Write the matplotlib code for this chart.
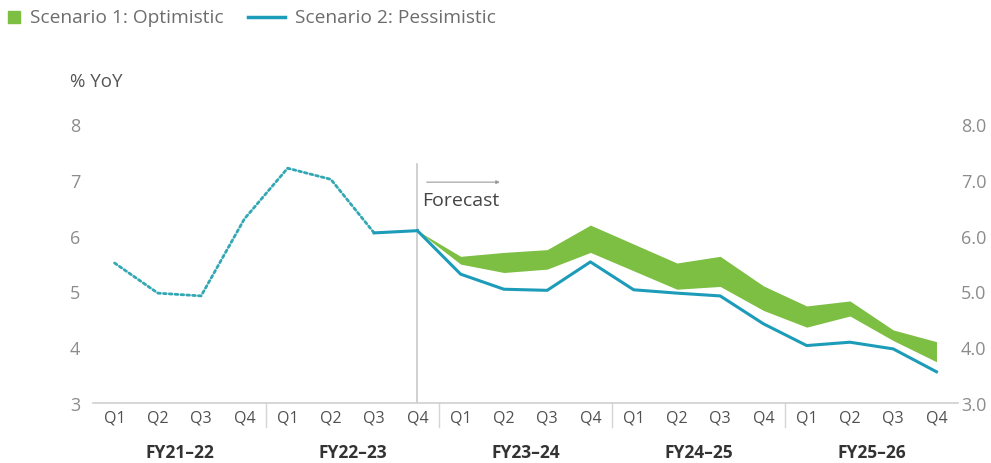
import matplotlib
matplotlib.use("Agg")
import matplotlib.pyplot as plt
from matplotlib.lines import Line2D
from matplotlib.patches import Rectangle
import matplotlib.transforms as mtransforms

plt.rcParams['font.family'] = ['Open Sans', 'DejaVu Sans']

# ---- data ----
quarters = ["Q1", "Q2", "Q3", "Q4"] * 5
fiscal_years = ["FY21–22", "FY22–23", "FY23–24", "FY24–25", "FY25–26"]
y_ticks = [3, 4, 5, 6, 7, 8]
y_ticks_right = ["3.0", "4.0", "5.0", "6.0", "7.0", "8.0"]

# actuals (Q1 FY21-22 .. Q4 FY22-23)
history = [5.51, 4.97, 4.92, 6.30, 7.21, 7.01, 6.05, 6.09]
# forecasts (Q4 FY22-23 .. Q4 FY25-26)
pessimistic = [6.09, 5.31, 5.04, 5.02, 5.53, 5.03, 4.97, 4.92, 4.42, 4.03, 4.09, 3.97, 3.56]
optimistic_high = [6.09, 5.63, 5.70, 5.75, 6.19, 5.85, 5.51, 5.63, 5.10, 4.74, 4.83, 4.31, 4.10]
optimistic_low = [6.09, 5.49, 5.34, 5.40, 5.70, 5.37, 5.04, 5.09, 4.66, 4.36, 4.56, 4.12, 3.74]

legend_labels = ["Scenario 1: Optimistic", "Scenario 2: Pessimistic"]

GREEN = "#7cbf42"
BLUE = "#1c9cb8"
TEAL = "#33a8b4"

fig = plt.figure(figsize=(9.91, 4.64), dpi=100)
ax = fig.add_axes([0.0938, 0.1293, 0.873, 0.601])

x_hist = list(range(len(history)))
x_fc = list(range(len(history) - 1, len(history) - 1 + len(pessimistic)))

# dotted part: up to Q3 FY22-23, solid from there on
ax.plot(x_hist[:7], history[:7], color=TEAL, lw=2.0, linestyle=(0, (1, 1.1)),
        dash_capstyle='round', zorder=3)
ax.plot(x_hist[6:], history[6:], color=BLUE, lw=2.2, zorder=3)
ax.fill_between(x_fc, optimistic_low, optimistic_high, color=GREEN, lw=0, zorder=2)
ax.plot(x_fc, pessimistic, color=BLUE, lw=2.2, zorder=3)

ax.set_xlim(-0.5, 19.5)
ax.set_ylim(3, 8)
ax.set_yticks(y_ticks)
ax.set_yticklabels([str(v) for v in y_ticks])
ax.set_xticks(range(len(quarters)))
ax.set_xticklabels(quarters)

for s in ["top", "right", "left"]:
    ax.spines[s].set_visible(False)
ax.spines["bottom"].set_color("#cfcfcf")
ax.spines["bottom"].set_linewidth(1.2)
ax.tick_params(axis='y', length=0, pad=9, labelsize=13, labelcolor="#8c8c8c")
ax.tick_params(axis='x', length=0, pad=5, labelsize=11.5, labelcolor="#505050")

ax2 = ax.twinx()
ax2.set_ylim(3, 8)
ax2.set_yticks(y_ticks)
ax2.set_yticklabels(y_ticks_right)
for s in ["top", "right", "left", "bottom"]:
    ax2.spines[s].set_visible(False)
ax2.tick_params(axis='y', length=0, pad=2, labelsize=13, labelcolor="#8c8c8c")

# fiscal year group labels and separators
trans = mtransforms.blended_transform_factory(ax.transData, ax.transAxes)
for i, fy in enumerate(fiscal_years):
    ax.text(i * 4 + 1.5, -0.175, fy, transform=trans, ha='center', va='center',
            fontsize=12.5, fontweight='bold', color="#333333")
    if i > 0:
        ax.plot([i * 4 - 0.5, i * 4 - 0.5], [0, -0.085], transform=trans,
                color="#d5d5d5", lw=1, clip_on=False)

# forecast marker
ax.plot([7, 7], [3, 7.28], color="#c4c4c4", lw=1.1, zorder=1)
ax.annotate("", xy=(8.97, 6.96), xytext=(7.15, 6.96),
            arrowprops=dict(arrowstyle="-|>", color="#9a9a9a", lw=0.8,
                            mutation_scale=5))
ax.text(7.12, 6.64, "Forecast", ha='left', va='center', fontsize=14, color="#444444")

# axis title
fig.text(70 / 991, 1 - 82 / 464, "% YoY", ha='left', va='center', fontsize=13.5,
         color="#555555")

# legend (manual)
fig.patches.append(Rectangle((8 / 991, 1 - 24 / 464), 12 / 991, 12 / 464,
                             transform=fig.transFigure, color=GREEN, figure=fig))
fig.text(30 / 991, 1 - 18 / 464, legend_labels[0], ha='left', va='center',
         fontsize=13.8, color="#6d6d6d")
fig.lines.append(Line2D([248 / 991, 285 / 991], [1 - 18 / 464, 1 - 18 / 464],
                        transform=fig.transFigure, color=BLUE, lw=2.5, figure=fig))
fig.text(295 / 991, 1 - 18 / 464, legend_labels[1], ha='left', va='center',
         fontsize=13.8, color="#6d6d6d")

fig.savefig("out.png", dpi=100)
